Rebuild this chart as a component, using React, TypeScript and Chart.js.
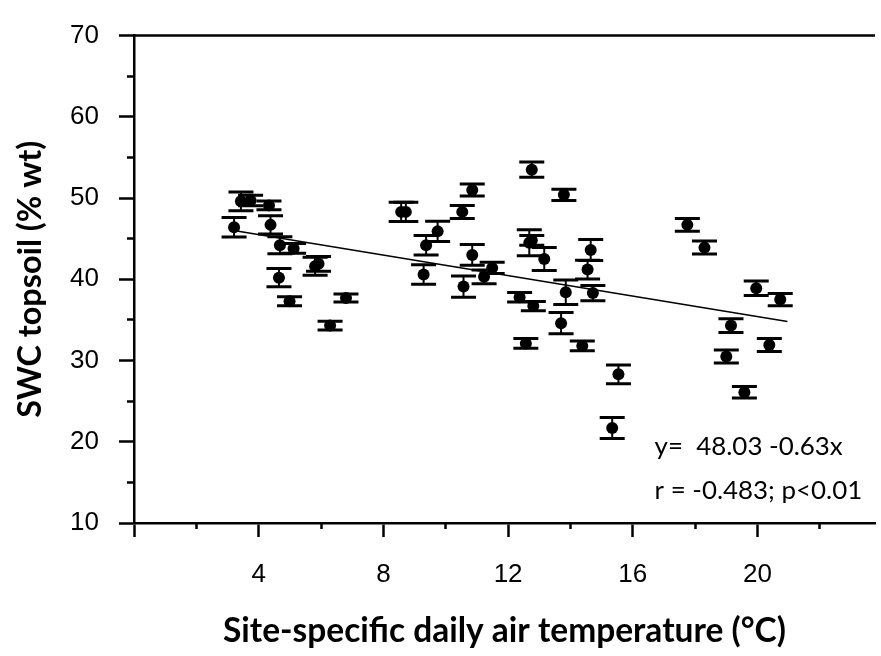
import React, { useEffect, useRef } from "react";
import { Chart, registerables } from "chart.js";

Chart.register(...registerables);

// ---- data ----
const tempC = [
  3.21, 3.43, 3.74, 4.33, 4.38, 4.68, 4.65, 5.12, 4.99, 5.81, 5.92, 6.29, 6.8,
  8.57, 8.72, 9.37, 9.29, 9.74, 10.53, 10.57, 10.85, 10.85, 11.23, 11.49,
  12.37, 12.57, 12.68, 12.76, 12.76, 12.81, 13.16, 13.7, 13.79, 13.85, 14.38,
  14.55, 14.65, 14.72, 15.34, 15.54, 17.75, 18.3, 19.0, 19.15, 19.58, 19.96,
  20.38, 20.73,
];
const swc = [
  46.4, 49.6, 49.7, 49.1, 46.7, 44.2, 40.2, 43.8, 37.3, 41.6, 41.9, 34.3, 37.7,
  48.3, 48.3, 44.2, 40.6, 45.9, 48.3, 39.1, 51.0, 43.0, 40.3, 41.4,
  37.8, 32.1, 44.5, 44.8, 53.5, 36.7, 42.5, 34.6, 50.4, 38.4, 31.8,
  41.2, 43.6, 38.3, 21.7, 28.3, 46.7, 43.9, 30.5, 34.3, 26.1, 38.9,
  31.9, 37.5,
];
const swcErr = [
  1.2, 1.15, 0.65, 0.55, 1.13, 1.05, 1.13, 0.6, 0.55, 1.1, 0.9, 0.55, 0.5,
  1.2, 1.2, 1.2, 1.2, 1.24, 0.8, 1.3, 0.74, 1.28, 0.85, 0.7,
  0.58, 0.6, 1.6, 0.6, 0.93, 0.58, 1.43, 1.3, 0.7, 1.5, 0.6,
  1.15, 1.3, 0.95, 1.3, 1.15, 0.8, 0.8, 0.8, 0.85, 0.7, 0.9,
  0.8, 0.75,
];
const trendX = [3.2, 20.96];
const trendY = [46.0, 34.8];

const xTickValues = [0, 4, 8, 12, 16, 20];
const xTickLabels = ["", "4", "8", "12", "16", "20"];
const xMinorTicks = [2, 6, 10, 14, 18, 22];
const yTickValues = [10, 20, 30, 40, 50, 60, 70];
const yTickLabels = ["10", "20", "30", "40", "50", "60", "70"];
const yMinorTicks = [15, 25, 35, 45, 55, 65];

const xTitle = "Site-specific daily air temperature (°C)";
const yTitle = "SWC topsoil (% wt)";
const annotationLines = ["y=  48.03 -0.63x", "r = -0.483; p<0.01"];
const annotationX = 16.7;
const annotationY = [18.37, 13.0];

function fitSize(text: string, font: string, target: number): number {
  const c = document.createElement("canvas").getContext("2d")!;
  c.font = `100px ${font}`.replace("100px", "100px");
  c.font = font.replace("{s}", "100px");
  const w = c.measureText(text).width;
  return (100 * target) / w;
}

export default function App() {
  const ref = useRef<HTMLCanvasElement | null>(null);

  useEffect(() => {
    let chart: Chart | null = null;
    let cancelled = false;

    const build = () => {
      if (cancelled || !ref.current) return;
      const xTitleSize = fitSize(xTitle, "bold {s} Lato", 563);
      const yTitleSize = fitSize(yTitle, "bold {s} Lato", 277);
      const annSize =
        (fitSize(annotationLines[0], "{s} Lato", 187) +
          fitSize(annotationLines[1], "{s} Lato", 209)) /
        2;

      const errorBars = {
        id: "errorBars",
        afterDatasetsDraw(c: any) {
          const { ctx, scales } = c;
          const xs = scales.x;
          const ys = scales.y;
          ctx.save();
          ctx.strokeStyle = "#000";
          for (let i = 0; i < tempC.length; i++) {
            const px = xs.getPixelForValue(tempC[i]);
            const top = ys.getPixelForValue(swc[i] + swcErr[i]);
            const bot = ys.getPixelForValue(swc[i] - swcErr[i]);
            ctx.lineWidth = 2;
            ctx.beginPath();
            ctx.moveTo(px, top);
            ctx.lineTo(px, bot);
            ctx.stroke();
            ctx.lineWidth = 3;
            ctx.beginPath();
            ctx.moveTo(px - 12.5, top);
            ctx.lineTo(px + 12.5, top);
            ctx.moveTo(px - 12.5, bot);
            ctx.lineTo(px + 12.5, bot);
            ctx.stroke();
          }
          ctx.restore();
        },
      };

      const frameAndText = {
        id: "frameAndText",
        afterDraw(c: any) {
          const { ctx, chartArea, scales } = c;
          ctx.save();
          ctx.strokeStyle = "#000";
          ctx.lineWidth = 2.5;
          ctx.beginPath();
          ctx.moveTo(chartArea.left, chartArea.top);
          ctx.lineTo(chartArea.right, chartArea.top);
          ctx.stroke();
          ctx.fillStyle = "#000";
          ctx.font = `${annSize}px Lato`;
          ctx.textAlign = "left";
          ctx.textBaseline = "alphabetic";
          annotationLines.forEach((t, i) => {
            ctx.fillText(
              t,
              scales.x.getPixelForValue(annotationX),
              scales.y.getPixelForValue(annotationY[i])
            );
          });
          ctx.restore();
        },
      };

      const tickFont = { family: "'Liberation Sans', Arial, sans-serif", size: 26 };

      chart = new Chart(ref.current, {
        type: "scatter",
        data: {
          datasets: [
            {
              data: tempC.map((t, i) => ({ x: t, y: swc[i] })),
              backgroundColor: "#000",
              borderColor: "#000",
              pointRadius: 6,
              pointBorderWidth: 0,
            },
            {
              data: trendX.map((t, i) => ({ x: t, y: trendY[i] })),
              showLine: true,
              borderColor: "#000",
              borderWidth: 1.5,
              pointRadius: 0,
              fill: false,
            } as any,
          ],
        },
        options: {
          animation: false,
          responsive: false,
          layout: { padding: { top: 21, left: 0, right: 0, bottom: 0 } },
          plugins: {
            legend: { display: false },
            tooltip: { enabled: false },
          },
          scales: {
            x: {
              type: "linear",
              position: "bottom",
              min: 0,
              max: 23.77,
              weight: 1,
              afterBuildTicks: (s: any) => {
                s.ticks = xTickValues.map((v) => ({ value: v }));
              },
              afterFit: (s: any) => {
                s.height = 133;
              },
              grid: {
                drawOnChartArea: false,
                drawTicks: true,
                tickLength: 14,
                tickWidth: 2.5,
                tickColor: "#000",
              },
              border: { display: true, color: "#000", width: 2.5 },
              ticks: {
                font: tickFont,
                color: "#000",
                padding: 22,
                maxRotation: 0,
                autoSkip: false,
                callback: (_v: any, i: number) => xTickLabels[i],
              },
              title: {
                display: true,
                text: xTitle,
                color: "#000",
                font: { family: "Lato", weight: "bold", size: xTitleSize },
                padding: { top: 0, bottom: 5 },
              },
            },
            xMinor: {
              type: "linear",
              position: "bottom",
              min: 0,
              max: 23.77,
              weight: 0,
              afterBuildTicks: (s: any) => {
                s.ticks = xMinorTicks.map((v) => ({ value: v }));
              },
              afterFit: (s: any) => {
                s.height = 0;
              },
              grid: {
                drawOnChartArea: false,
                drawTicks: true,
                tickLength: 6,
                tickWidth: 2.5,
                tickColor: "#000",
              },
              border: { display: false },
              ticks: { display: false },
            },
            y: {
              type: "linear",
              position: "left",
              min: 10,
              max: 70,
              weight: 1,
              afterBuildTicks: (s: any) => {
                s.ticks = yTickValues.map((v) => ({ value: v }));
              },
              afterFit: (s: any) => {
                s.width = 134;
              },
              grid: {
                drawOnChartArea: false,
                drawTicks: true,
                tickLength: 15,
                tickWidth: 2.5,
                tickColor: "#000",
              },
              border: { display: true, color: "#000", width: 2.5 },
              ticks: {
                font: tickFont,
                color: "#000",
                padding: 20,
                autoSkip: false,
                callback: (_v: any, i: number) => yTickLabels[i],
              },
              title: {
                display: true,
                text: yTitle,
                color: "#000",
                font: { family: "Lato", weight: "bold", size: yTitleSize },
                padding: { top: 11, bottom: 0 },
              },
            },
            yMinor: {
              type: "linear",
              position: "left",
              min: 10,
              max: 70,
              weight: 0,
              afterBuildTicks: (s: any) => {
                s.ticks = yMinorTicks.map((v) => ({ value: v }));
              },
              afterFit: (s: any) => {
                s.width = 0;
              },
              grid: {
                drawOnChartArea: false,
                drawTicks: true,
                tickLength: 7,
                tickWidth: 2.5,
                tickColor: "#000",
              },
              border: { display: false },
              ticks: { display: false },
            },
          } as any,
        },
        plugins: [errorBars, frameAndText],
      });
    };

    const fonts = (document as any).fonts;
    if (fonts && fonts.load) {
      Promise.all([
        fonts.load("bold 20px Lato"),
        fonts.load("20px Lato"),
        fonts.load("20px 'Liberation Sans'"),
      ])
        .catch(() => null)
        .then(build);
    } else {
      build();
    }

    return () => {
      cancelled = true;
      if (chart) chart.destroy();
    };
  }, []);

  return (
    <div
      style={{
        position: "absolute",
        left: 0,
        top: 0,
        width: 881,
        height: 656,
        background: "#fff",
        overflow: "hidden",
      }}
    >
      <canvas ref={ref} width={881} height={656} style={{ display: "block" }} />
    </div>
  );
}
